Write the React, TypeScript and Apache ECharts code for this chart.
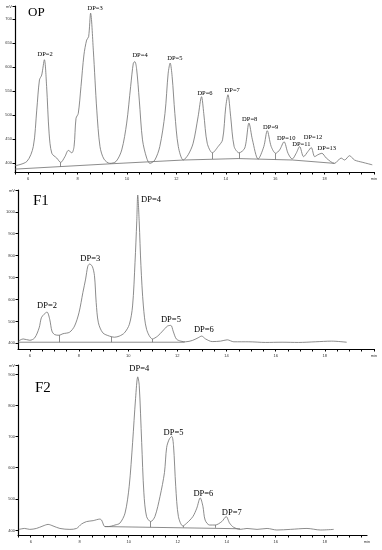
import React, { useEffect, useRef } from "react";
import * as echarts from "echarts";

// ---- OP chromatogram (time min, signal mV) ----
const opTrace: [number, number][] = [
  [5.47, 394], [5.95, 403], [6.21, 434], [6.35, 510], [6.46, 573], [6.55, 583], [6.66, 615],
  [6.75, 559], [6.85, 462], [6.96, 420], [7.16, 410], [7.32, 401], [7.49, 413], [7.63, 426],
  [7.77, 421], [7.86, 434], [7.94, 493], [8.03, 503], [8.14, 559], [8.26, 625], [8.37, 656],
  [8.45, 663], [8.53, 712], [8.64, 635], [8.78, 510], [8.91, 434], [9.07, 408], [9.31, 399],
  [9.56, 403], [9.79, 427], [9.99, 483], [10.15, 559], [10.26, 608], [10.32, 611], [10.39, 597],
  [10.5, 531], [10.63, 448], [10.8, 410], [10.93, 399], [11.13, 406], [11.33, 434], [11.54, 503],
  [11.67, 587], [11.75, 608], [11.83, 580], [11.94, 503], [12.08, 434], [12.28, 406], [12.48, 417],
  [12.68, 441], [12.88, 496], [13.02, 538], [13.11, 503], [13.25, 441], [13.46, 421], [13.69, 434],
  [13.87, 448], [14.0, 517], [14.09, 542], [14.2, 496], [14.34, 434], [14.54, 421], [14.77, 431],
  [14.94, 483], [15.08, 448], [15.31, 408], [15.54, 434], [15.68, 467], [15.84, 434], [16.02, 420],
  [16.18, 427], [16.36, 444], [16.52, 420], [16.69, 408], [16.85, 420], [16.99, 434], [17.15, 413],
  [17.33, 424], [17.46, 432], [17.6, 413], [17.73, 417], [17.89, 420], [18.07, 410], [18.4, 399],
  [18.67, 410], [18.81, 406], [19.01, 415], [19.21, 406], [19.55, 401], [19.93, 396],
];
const opBaseline: [number, number][] = [
  [5.47, 387], [9.3, 398], [12.3, 406], [14.5, 409], [16.7, 406], [18.4, 399],
];
const opDrops: [number, number, number][] = [
  [7.32, 401, 392], [13.46, 421, 408], [14.54, 421, 409], [16.02, 420, 407],
];
const opLabels: [string, number, number][] = [
  ["DP=2", 6.69, 628], ["DP=3", 8.71, 724], ["DP=4", 10.53, 625], ["DP=5", 11.94, 620],
  ["DP=6", 13.16, 546], ["DP=7", 14.26, 552], ["DP=8", 14.97, 493], ["DP=9", 15.82, 476],
  ["DP=10", 16.45, 453], ["DP=11", 17.06, 440], ["DP=12", 17.53, 455], ["DP=13", 18.09, 432],
];
const opYTicks = [400, 450, 500, 550, 600, 650, 700];

// ---- F1 chromatogram ----
const f1Trace: [number, number][] = [
  [5.53, 408], [5.73, 418], [6.0, 412], [6.2, 423], [6.38, 469], [6.47, 515], [6.58, 531],
  [6.7, 541], [6.81, 508], [6.9, 454], [7.01, 438], [7.19, 435], [7.35, 442], [7.62, 449],
  [7.82, 477], [8.0, 538], [8.16, 631], [8.27, 692], [8.36, 751], [8.43, 761], [8.54, 751],
  [8.63, 708], [8.7, 585], [8.79, 492], [8.97, 446], [9.24, 431], [9.44, 426], [9.64, 431],
  [9.85, 446], [10.05, 485], [10.18, 569], [10.28, 769], [10.35, 954], [10.39, 1077], [10.45, 954],
  [10.52, 754], [10.62, 569], [10.75, 462], [10.99, 418], [11.2, 431], [11.4, 454], [11.6, 477],
  [11.74, 480], [11.83, 454], [11.96, 418], [12.14, 408], [12.34, 405], [12.61, 411], [12.84, 423],
  [12.99, 431], [13.15, 418], [13.42, 406], [13.76, 408], [14.03, 414], [14.3, 405], [14.91, 405],
  [15.58, 402], [16.26, 403], [16.93, 402], [17.61, 405], [18.28, 408], [18.89, 403],
];
const f1Baseline: [number, number][] = [[5.53, 403], [12.3, 403]];
const f1Drops: [number, number, number][] = [
  [7.19, 435, 403], [9.32, 428, 403], [10.99, 418, 403],
];
const f1Labels: [string, number, number][] = [
  ["DP=2", 6.7, 574], ["DP=3", 8.46, 789], ["DP=4", 10.93, 1061], ["DP=5", 11.74, 511],
  ["DP=6", 13.08, 462],
];
const f1YTicks = [400, 500, 600, 700, 800, 900, 1000];

// ---- F2 chromatogram ----
const f2Trace: [number, number][] = [
  [5.52, 402], [5.75, 405], [5.96, 402], [6.23, 405], [6.5, 413], [6.71, 418], [6.91, 413],
  [7.19, 405], [7.6, 402], [7.87, 405], [8.07, 419], [8.28, 427], [8.55, 430], [8.82, 435],
  [8.89, 432], [9.03, 411], [9.17, 411], [9.44, 416], [9.64, 422], [9.85, 454], [10.02, 540],
  [10.16, 681], [10.28, 821], [10.37, 891], [10.43, 864], [10.53, 681], [10.62, 519], [10.73, 443],
  [10.9, 427], [11.07, 443], [11.28, 508], [11.46, 584], [11.55, 665], [11.66, 692], [11.76, 700],
  [11.83, 670], [11.92, 540], [12.03, 443], [12.21, 413], [12.37, 422], [12.62, 443], [12.78, 470],
  [12.92, 503], [13.03, 476], [13.12, 432], [13.3, 416], [13.53, 416], [13.8, 427], [13.98, 443],
  [14.12, 422], [14.28, 409], [14.55, 402], [14.83, 405], [15.24, 402], [15.65, 405], [16.05, 400],
  [16.6, 402], [17.28, 405], [17.83, 400], [18.37, 402],
];
const f2Baseline: [number, number][] = [[9.03, 411], [14.55, 404]];
const f2Drops: [number, number, number][] = [
  [10.9, 427, 409], [12.21, 413, 408], [13.53, 416, 407],
];
const f2Labels: [string, number, number][] = [
  ["DP=4", 10.43, 918], ["DP=5", 11.83, 715], ["DP=6", 13.05, 519], ["DP=7", 14.21, 459],
];
const f2YTicks = [400, 500, 600, 700, 800, 900];

const xTicks = [6, 8, 10, 12, 14, 16, 18];
const panelNames = ["OP", "F1", "F2"];

const TRACE = "#6e6e6e";
const AXIS = "#000";
const TEXT = "#000";

function halfSteps(min: number, max: number) {
  const out: number[] = [];
  for (let v = Math.ceil(min * 2) / 2; v <= max + 1e-9; v += 0.5) out.push(v);
  return out;
}

function xAxisFor(idx: number, min: number, max: number) {
  return {
    type: "value",
    gridIndex: idx,
    min,
    max,
    splitLine: { show: false },
    axisLine: { show: true, onZero: false, lineStyle: { color: AXIS, width: 1.2 } },
    axisTick: { show: true, length: 2.5, lineStyle: { color: AXIS, width: 1 }, customValues: halfSteps(min, max) },
    axisLabel: {
      show: true,
      customValues: [...xTicks, max],
      fontSize: 4,
      color: "#333",
      margin: 4,
      formatter: (v: number) => (Math.abs(v - max) < 1e-6 ? "min" : String(v)),
    },
  };
}

function yAxisFor(idx: number, min: number, max: number, ticks: number[]) {
  return {
    type: "value",
    gridIndex: idx,
    min,
    max,
    splitLine: { show: false },
    axisLine: { show: true, onZero: false, lineStyle: { color: AXIS, width: 1.2 } },
    axisTick: { show: true, length: 2.5, lineStyle: { color: AXIS, width: 1 }, customValues: [...ticks, max] },
    axisLabel: {
      show: true,
      customValues: [...ticks, max],
      fontSize: 4,
      color: "#333",
      margin: 3,
      formatter: (v: number) => (Math.abs(v - max) < 1e-6 ? "mV" : String(v)),
    },
  };
}

function panelSeries(
  idx: number,
  trace: [number, number][],
  baseline: [number, number][],
  drops: [number, number, number][],
  labels: [string, number, number][],
  labelSize: number
) {
  return [
    {
      type: "line",
      xAxisIndex: idx,
      yAxisIndex: idx,
      data: trace,
      showSymbol: false,
      smooth: 0.3,
      color: TRACE,
      lineStyle: { color: TRACE, width: 0.8 },
      silent: true,
    },
    {
      type: "line",
      xAxisIndex: idx,
      yAxisIndex: idx,
      data: baseline,
      showSymbol: false,
      color: TRACE,
      lineStyle: { color: TRACE, width: 0.8 },
      silent: true,
      markLine: {
        symbol: ["none", "none"],
        silent: true,
        label: { show: false },
        lineStyle: { color: TRACE, width: 0.8, type: "solid" },
        data: drops.map(([t, a, b]) => [{ coord: [t, a] }, { coord: [t, b] }]),
      },
    },
    {
      type: "custom",
      xAxisIndex: idx,
      yAxisIndex: idx,
      silent: true,
      data: labels.map(([n, t, v]) => [t, v, n]),
      renderItem: (params: any, api: any) => {
        const p = api.coord([api.value(0), api.value(1)]);
        const name = labels[params.dataIndex][0];
        return {
          type: "text",
          x: p[0],
          y: p[1],
          style: {
            text: name,
            fill: TEXT,
            fontFamily: "Liberation Serif",
            fontSize: labelSize,
            align: "center",
            verticalAlign: "middle",
          },
        };
      },
    },
  ];
}

export default function App() {
  const ref = useRef<HTMLDivElement>(null);
  useEffect(() => {
    document.body.style.margin = "0";
    if (!ref.current) return;
    const chart = echarts.init(ref.current, undefined, { renderer: "svg" });
    const option: any = {
      animation: false,
      grid: [
        { left: 15, right: 8, top: 6, height: 166 },
        { left: 18, right: 8, top: 190, height: 159 },
        { left: 18, right: 15, top: 365, height: 170 },
      ],
      xAxis: [xAxisFor(0, 5.47, 20), xAxisFor(1, 5.52, 20), xAxisFor(2, 5.48, 19.73)],
      yAxis: [
        yAxisFor(0, 381, 727, opYTicks),
        yAxisFor(1, 372, 1100, f1YTicks),
        yAxisFor(2, 384, 929, f2YTicks),
      ],
      graphic: [
        { type: "text", left: 28, top: 5, style: { text: panelNames[0], fontFamily: "Liberation Serif", fontSize: 13, fill: TEXT } },
        { type: "text", left: 33, top: 192, style: { text: panelNames[1], fontFamily: "Liberation Serif", fontSize: 15, fill: TEXT } },
        { type: "text", left: 35, top: 379, style: { text: panelNames[2], fontFamily: "Liberation Serif", fontSize: 15, fill: TEXT } },
      ],
      series: [
        ...panelSeries(0, opTrace, opBaseline, opDrops, opLabels, 6.5),
        ...panelSeries(1, f1Trace, f1Baseline, f1Drops, f1Labels, 8.5),
        ...panelSeries(2, f2Trace, f2Baseline, f2Drops, f2Labels, 8.5),
      ],
    };
    chart.setOption(option);
    return () => chart.dispose();
  }, []);
  return <div ref={ref} style={{ width: 382, height: 550, willChange: "transform" } as any} />;
}
